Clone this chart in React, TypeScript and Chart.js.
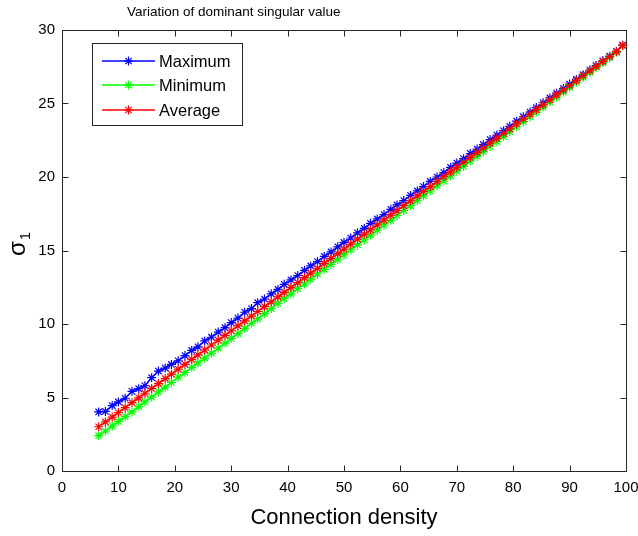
import React, { useEffect, useRef } from "react";
import { Chart, registerables } from "chart.js";

Chart.register(...registerables);

// ---------- data ----------
const density = [
  6.5, 7.7, 8.9, 10.0, 11.2, 12.4, 13.6, 14.7, 15.9, 17.1,
  18.3, 19.4, 20.6, 21.8, 23.0, 24.1, 25.3, 26.5, 27.7, 28.9,
  30.0, 31.2, 32.4, 33.6, 34.7, 35.9, 37.1, 38.3, 39.4, 40.6,
  41.8, 43.0, 44.1, 45.3, 46.5, 47.7, 48.9, 50.0, 51.2, 52.4,
  53.6, 54.7, 55.9, 57.1, 58.3, 59.4, 60.6, 61.8, 63.0, 64.1,
  65.3, 66.5, 67.7, 68.9, 70.0, 71.2, 72.4, 73.6, 74.7, 75.9,
  77.1, 78.3, 79.4, 80.6, 81.8, 83.0, 84.1, 85.3, 86.5, 87.7,
  88.9, 90.0, 91.2, 92.4, 93.6, 94.7, 95.9, 97.1, 98.3, 99.4,
];

const maxSigma = [
  4.02, 4.05, 4.45, 4.70, 4.95, 5.42, 5.60, 5.80, 6.35, 6.80,
  7.00, 7.25, 7.50, 7.85, 8.20, 8.45, 8.85, 9.10, 9.45, 9.75,
  10.10, 10.40, 10.80, 11.05, 11.45, 11.70, 12.05, 12.35, 12.70, 13.00,
  13.30, 13.65, 13.95, 14.25, 14.60, 14.90, 15.25, 15.55, 15.85, 16.20,
  16.50, 16.85, 17.15, 17.45, 17.80, 18.10, 18.40, 18.75, 19.05, 19.35,
  19.70, 20.00, 20.30, 20.65, 20.95, 21.25, 21.60, 21.90, 22.20, 22.55,
  22.85, 23.15, 23.45, 23.80, 24.10, 24.42, 24.72, 25.05, 25.38, 25.70,
  26.02, 26.32, 26.64, 26.96, 27.28, 27.58, 27.90, 28.22, 28.55, 28.97,
];

const minSigma = [
  2.40, 2.72, 3.05, 3.38, 3.70, 4.02, 4.38, 4.70, 5.02, 5.38,
  5.70, 6.02, 6.38, 6.70, 7.05, 7.35, 7.68, 8.02, 8.35, 8.70,
  9.02, 9.35, 9.70, 10.05, 10.35, 10.70, 11.05, 11.40, 11.72, 12.05,
  12.40, 12.72, 13.05, 13.40, 13.72, 14.05, 14.38, 14.70, 15.05, 15.38,
  15.72, 16.05, 16.38, 16.72, 17.05, 17.38, 17.72, 18.05, 18.40, 18.72,
  19.05, 19.40, 19.72, 20.08, 20.40, 20.72, 21.08, 21.40, 21.72, 22.08,
  22.40, 22.75, 23.08, 23.42, 23.75, 24.10, 24.42, 24.76, 25.10, 25.44,
  25.78, 26.10, 26.44, 26.78, 27.12, 27.45, 27.78, 28.13, 28.48, 28.93,
];

const avgSigma = [
  3.01, 3.34, 3.67, 3.98, 4.31, 4.65, 4.98, 5.29, 5.62, 5.95,
  6.29, 6.59, 6.93, 7.26, 7.59, 7.90, 8.23, 8.57, 8.90, 9.23,
  9.54, 9.87, 10.21, 10.54, 10.85, 11.18, 11.51, 11.85, 12.15, 12.49,
  12.82, 13.15, 13.46, 13.79, 14.13, 14.46, 14.79, 15.10, 15.43, 15.77,
  16.10, 16.41, 16.74, 17.07, 17.41, 17.71, 18.05, 18.38, 18.71, 19.02,
  19.35, 19.69, 20.02, 20.35, 20.66, 20.99, 21.33, 21.66, 21.97, 22.30,
  22.63, 22.97, 23.27, 23.61, 23.94, 24.27, 24.58, 24.91, 25.25, 25.58,
  25.91, 26.22, 26.55, 26.89, 27.22, 27.53, 27.86, 28.19, 28.53, 28.95,
];

const xTickValues = [0, 10, 20, 30, 40, 50, 60, 70, 80, 90, 100];
const yTickValues = [0, 5, 10, 15, 20, 25, 30];
const seriesLabels = ["Maximum", "Minimum", "Average"];
const seriesColors = ["#0000ff", "#00ff00", "#ff0000"];
const titleText = "Variation of dominant singular value";
const xTitleText = "Connection density";
const yTitleMain = "\u03c3";
const yTitleSub = "1";

// ---------- style ----------
const SANS = "'Liberation Sans', Arial, Helvetica, sans-serif";
const NARROW = "'Liberation Sans Narrow', 'Liberation Sans', Arial, sans-serif";
const AXIS_COLOR = "#262626";

function drawStar(ctx: CanvasRenderingContext2D, x: number, y: number, r: number, color: string) {
  ctx.save();
  ctx.strokeStyle = color;
  ctx.lineWidth = 1.2;
  ctx.beginPath();
  ctx.moveTo(x - r, y);
  ctx.lineTo(x + r, y);
  ctx.moveTo(x, y - r);
  ctx.lineTo(x, y + r);
  const d = r * 0.7071;
  ctx.moveTo(x - d, y - d);
  ctx.lineTo(x + d, y + d);
  ctx.moveTo(x - d, y + d);
  ctx.lineTo(x + d, y - d);
  ctx.stroke();
  ctx.restore();
}

const decorPlugin = {
  id: "matlabDecor",
  beforeDatasetsDraw(chart: any) {
    const { ctx, chartArea: a, scales } = chart;
    const L = Math.round(a.left) + 0.5;
    const R = Math.round(a.right) + 0.5;
    const T = Math.round(a.top) + 0.5;
    const B = Math.round(a.bottom) + 0.5;
    ctx.save();
    ctx.strokeStyle = AXIS_COLOR;
    ctx.lineWidth = 1;
    ctx.beginPath();
    ctx.rect(L, T, R - L, B - T);
    const tl = 6;
    for (const v of xTickValues) {
      const px = Math.round(scales.x.getPixelForValue(v)) + 0.5;
      ctx.moveTo(px, B);
      ctx.lineTo(px, B - tl);
      ctx.moveTo(px, T);
      ctx.lineTo(px, T + tl);
    }
    for (const v of yTickValues) {
      const py = Math.round(scales.y.getPixelForValue(v)) + 0.5;
      ctx.moveTo(L, py);
      ctx.lineTo(L + tl, py);
      ctx.moveTo(R, py);
      ctx.lineTo(R - tl, py);
    }
    ctx.stroke();
    ctx.restore();
  },
  afterDraw(chart: any) {
    const { ctx, chartArea: a } = chart;
    ctx.save();
    ctx.fillStyle = "#000";
    // title
    ctx.font = `13.5px ${SANS}`;
    ctx.textAlign = "left";
    ctx.textBaseline = "alphabetic";
    ctx.fillText(titleText, 127, 16);
    // x title
    ctx.font = `22px ${SANS}`;
    ctx.textAlign = "center";
    ctx.fillText(xTitleText, (a.left + a.right) / 2, 524);
    // y title (rotated sigma_1)
    ctx.save();
    ctx.translate(25, 256);
    ctx.rotate(-Math.PI / 2);
    ctx.textAlign = "left";
    ctx.font = `24px ${SANS}`;
    ctx.fillText(yTitleMain, 0, 0);
    const w = ctx.measureText(yTitleMain).width;
    ctx.font = `15px ${SANS}`;
    ctx.fillText(yTitleSub, w + 1, 5);
    ctx.restore();

    // legend
    const bx = 92.5, by = 43.5, bw = 150, bh = 82;
    ctx.fillStyle = "#ffffff";
    ctx.fillRect(bx, by, bw, bh);
    ctx.strokeStyle = AXIS_COLOR;
    ctx.lineWidth = 1;
    ctx.strokeRect(bx, by, bw, bh);
    const rows = [61, 85, 110];
    ctx.font = `16.5px ${SANS}`;
    ctx.textAlign = "left";
    ctx.textBaseline = "middle";
    seriesLabels.forEach((lab, i) => {
      const y = rows[i];
      ctx.strokeStyle = seriesColors[i];
      ctx.lineWidth = 1.5;
      ctx.beginPath();
      ctx.moveTo(102, y);
      ctx.lineTo(155, y);
      ctx.stroke();
      drawStar(ctx, 128.5, y, 4.5, seriesColors[i]);
      ctx.fillStyle = "#000";
      ctx.fillText(lab, 159, rows[i] + 1);
    });
    ctx.restore();
  },
};

function makePoints(ys: number[]) {
  return density.map((x, i) => ({ x, y: ys[i] }));
}

export default function App() {
  const ref = useRef<HTMLCanvasElement | null>(null);

  useEffect(() => {
    const canvas = ref.current;
    if (!canvas) return;
    const seriesData = [maxSigma, minSigma, avgSigma];
    const chart = new Chart(canvas, {
      type: "line",
      data: {
        datasets: seriesLabels.map((label, i) => ({
          label,
          data: makePoints(seriesData[i]),
          borderColor: seriesColors[i],
          backgroundColor: seriesColors[i],
          borderWidth: 1.5,
          pointStyle: "star",
          pointRadius: 4.5,
          pointBorderWidth: 1.2,
          pointBorderColor: seriesColors[i],
          fill: false,
          tension: 0,
          order: 3 - i,
          clip: false as any,
        })),
      },
      options: {
        animation: false,
        responsive: false,
        devicePixelRatio: 1,
        events: [],
        layout: { padding: { top: 30, right: 12, left: 0, bottom: 0 } },
        plugins: {
          legend: { display: false },
          title: { display: false },
          tooltip: { enabled: false },
        },
        scales: {
          x: {
            type: "linear",
            min: 0,
            max: 100,
            afterFit: (s: any) => {
              s.height = 65;
              s.paddingLeft = 0;
              s.paddingRight = 0;
            },
            afterBuildTicks: (s: any) => {
              s.ticks = xTickValues.map((v) => ({ value: v }));
            },
            grid: { display: false, drawTicks: false },
            border: { display: false },
            ticks: {
              padding: 8,
              color: "#000",
              maxRotation: 0,
              autoSkip: false,
              font: { family: NARROW, size: 15 },
            },
          },
          y: {
            type: "linear",
            min: 0,
            max: 30,
            afterFit: (s: any) => {
              s.width = 62;
              s.paddingTop = 0;
              s.paddingBottom = 0;
            },
            afterBuildTicks: (s: any) => {
              s.ticks = yTickValues.map((v) => ({ value: v }));
            },
            grid: { display: false, drawTicks: false },
            border: { display: false },
            ticks: {
              padding: 7,
              color: "#000",
              autoSkip: false,
              font: { family: NARROW, size: 15 },
            },
          },
        },
      },
      plugins: [decorPlugin],
    });
    return () => chart.destroy();
  }, []);

  return (
    <div style={{ position: "fixed", left: 0, top: 0, width: 638, height: 536, background: "#fff" }}>
      <canvas ref={ref} width={638} height={536} style={{ display: "block", width: 638, height: 536 }} />
    </div>
  );
}
